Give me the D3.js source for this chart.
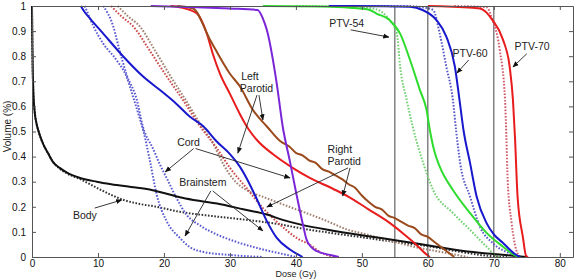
<!DOCTYPE html>
<html><head><meta charset="utf-8">
<script src="https://cdn.jsdelivr.net/npm/d3@7"></script>
<style>
html,body{margin:0;padding:0;background:#fff;}
svg{display:block;font-family:"Liberation Sans",Arial,sans-serif;}
</style></head><body>
<svg id="chart" width="576" height="279"></svg>
<script>
// ---------- DATA (dose in Gy, volume fraction) ----------
const xTicks = [0,10,20,30,40,50,60,70,80];
const yTicks = [0,0.1,0.2,0.3,0.4,0.5,0.6,0.7,0.8,0.9,1];
const refDoses = [55,60,70];

const bodyA = [[0,1],[0.05,0.86],[0.1,0.76],[0.2,0.66],[0.4,0.58],[0.7,0.53],[1,0.5],[1.7,0.45],[2.5,0.41],[3.2,0.378],[4.2,0.355],[5.3,0.336],[7.3,0.315],[9.8,0.3],[12,0.29],[15,0.279],[18,0.268],[20,0.255],[22.4,0.238],[25,0.225],[29,0.208],[32,0.19],[35.6,0.169],[38,0.148],[40.6,0.13],[45.6,0.105],[50.7,0.084],[55.8,0.064],[61.3,0.041],[66.4,0.021],[70,0.012],[73.4,0.004],[75,0]];
const bodyB = [[0,1],[0.05,0.86],[0.1,0.76],[0.2,0.66],[0.4,0.58],[0.7,0.53],[1,0.5],[1.7,0.45],[2.5,0.41],[3.2,0.378],[4.2,0.352],[5.3,0.333],[7.3,0.31],[9.8,0.276],[11.8,0.25],[13.8,0.228],[16,0.213],[18.9,0.2],[22.4,0.18],[27.4,0.163],[32.5,0.148],[37.6,0.13],[40.6,0.115],[45,0.097],[50.7,0.076],[55,0.06],[59.8,0.044],[65,0.02],[69,0.005],[72,0]];
const cordA = [[7.4,1],[8,0.975],[8.8,0.95],[10.8,0.89],[13.8,0.8],[16.8,0.72],[19.4,0.665],[21.9,0.61],[23.9,0.56],[26,0.52],[28,0.46],[30,0.41],[31.5,0.36],[32.8,0.3],[34,0.235],[35.6,0.143],[37.1,0.076],[39.1,0.03],[40.3,0.01],[41,0]];
const cordB = [[10.8,1],[12.3,0.92],[13.3,0.82],[14.3,0.73],[15.9,0.625],[16.8,0.52],[18.3,0.434],[19.4,0.368],[20.4,0.315],[21.9,0.235],[23.4,0.169],[25.5,0.125],[28,0.09],[31,0.06],[35,0.03],[38,0.012],[40,0]];
const brainstemB = [[8,1],[9.3,0.92],[10.8,0.85],[12.8,0.785],[14.3,0.72],[15.3,0.64],[16.4,0.546],[16.9,0.5],[17.9,0.38],[18.9,0.248],[20.4,0.143],[22.4,0.076],[23.9,0.04],[26,0.02],[30,0.008],[35,0]];
const rightParotidA = [[21,1],[22.4,0.995],[25,0.97],[26.5,0.89],[27.4,0.81],[28.5,0.73],[30,0.65],[31.5,0.57],[32.8,0.51],[34.3,0.46],[36.5,0.41],[39.5,0.355],[42.1,0.315],[45.6,0.272],[48,0.24],[51,0.19],[54,0.14],[56.2,0.095],[58,0.055],[59.8,0.01],[60.3,0]];
const rightParotidB = [[12,1],[13.5,0.96],[15.3,0.92],[17.9,0.82],[20.4,0.72],[22.9,0.625],[25.5,0.52],[28,0.434],[30,0.355],[32.5,0.275],[35,0.195],[37.6,0.129],[40.1,0.076],[42.1,0.049],[44,0.015],[46,0]];
const leftParotidA = [[22,1],[24.4,0.99],[27,0.865],[30,0.73],[31.5,0.68],[33.5,0.585],[35.6,0.52],[37.6,0.462],[39,0.44],[40,0.415],[41,0.405],[42,0.385],[43,0.375],[44,0.35],[45,0.34],[46,0.325],[47,0.31],[48,0.29],[49,0.275],[50,0.245],[51,0.22],[52,0.2],[53,0.19],[54,0.165],[55,0.155],[56,0.14],[57,0.125],[58,0.115],[59,0.09],[60,0.08],[61,0.06],[62,0.04],[63,0.02],[64,0]];
const leftParotidB = [[13,1],[14.5,0.96],[16.3,0.92],[18.7,0.82],[21,0.72],[23.3,0.625],[25.5,0.53],[27.5,0.45],[29,0.37],[30.5,0.31],[33,0.26],[35,0.24],[39,0.2],[42.6,0.165],[45,0.14],[47.7,0.11],[50.7,0.09],[52.7,0.075],[55,0.06],[58,0.04],[61,0.025],[64,0.01],[66,0]];
const violetA = [[18,1],[25,0.995],[30,0.99],[34.2,0.984],[35,0.95],[35.6,0.904],[37.1,0.69],[38,0.52],[39.1,0.38],[40.1,0.248],[41.1,0.125],[41.6,0.07],[42.3,0.04],[43.1,0.024],[45.2,0.008],[46.5,0]];
const ptv54A = [[35,1],[44.1,0.998],[48.2,0.993],[51.2,0.984],[52.2,0.97],[54.2,0.944],[55.8,0.89],[57.3,0.785],[58.8,0.665],[59.8,0.586],[60.3,0.506],[61,0.42],[61.8,0.36],[63.8,0.267],[66.4,0.175],[68.9,0.096],[71.4,0.041],[73.4,0.004],[74,0]];
const ptv54B = [[40,1],[48,0.998],[51.7,0.99],[54.2,0.944],[55.3,0.89],[55.8,0.758],[56.8,0.625],[57.7,0.52],[59.3,0.374],[60.8,0.267],[63.8,0.175],[66.4,0.108],[68.9,0.041],[70.4,0.004],[71,0]];
const ptv60A = [[45,1],[53,0.999],[57.3,0.997],[59.2,0.984],[61.3,0.944],[62.8,0.878],[64.1,0.758],[64.8,0.625],[65.4,0.506],[66.4,0.374],[67.4,0.24],[68.9,0.135],[70,0.09],[71.4,0.056],[73.4,0.008],[74,0]];
const ptv60B = [[48,1],[57,0.999],[59.2,0.995],[60.8,0.984],[61.8,0.89],[62.8,0.758],[63.8,0.625],[64.3,0.5],[64.9,0.374],[66.4,0.24],[67.9,0.12],[69.8,0.056],[72.9,0.008],[73.5,0]];
const ptv70A = [[60,1],[61.8,0.999],[67.9,0.99],[69.8,0.944],[71.4,0.865],[72.4,0.758],[72.9,0.625],[73.2,0.48],[73.6,0.24],[74.4,0.08],[74.9,0.004],[75.2,0]];
const ptv70B = [[64,1],[68.9,0.995],[69.8,0.944],[70.9,0.825],[71.7,0.625],[71.9,0.48],[72.1,0.307],[72.7,0.135],[73.4,0.028],[74,0]];

const labelTexts = ["PTV-54","PTV-60","PTV-70","Left","Parotid","Right","Parotid","Cord","Brainstem","Body"];

// ---------- STYLES / LAYOUT ----------
const series = [
  {d: bodyB, color:"#333", dash:"1.6,1.6"},
  {d: leftParotidB, color:"#a08070", dash:"1.6,1.6"},
  {d: rightParotidB, color:"#cc4a4a", dash:"1.6,1.6"},
  {d: brainstemB, color:"#5a5ad0", dash:"1.6,1.6"},
  {d: cordB, color:"#5a5ad0", dash:"1.6,1.6"},
  {d: ptv54B, color:"#70d070", dash:"1.6,1.6"},
  {d: ptv60B, color:"#5a5ac8", dash:"1.6,1.6"},
  {d: ptv70B, color:"#d05a6a", dash:"1.6,1.6"},
  {d: bodyA, color:"#111", dash:null},
  {d: cordA, color:"#1818cc", dash:null},
  {d: rightParotidA, color:"#e81c1c", dash:null},
  {d: leftParotidA, color:"#9a4a1c", dash:null},
  {d: violetA, color:"#7a26d8", dash:null},
  {d: ptv54A, color:"#2edc2e", dash:null},
  {d: ptv60A, color:"#1818cc", dash:null},
  {d: ptv70A, color:"#e81c1c", dash:null}
];

const x = d3.scaleLinear().domain([0,82]).range([32, 573]);
const y = d3.scaleLinear().domain([0,1]).range([257, 6]);
const svg = d3.select("#chart");

svg.append("defs").append("marker")
  .attr("id","arr").attr("viewBox","0 0 10 10").attr("refX",9).attr("refY",5)
  .attr("markerWidth",7).attr("markerHeight",7).attr("orient","auto")
  .append("path").attr("d","M0,1 L10,5 L0,9 z").attr("fill","#111");

// reference lines
svg.selectAll(".ref").data(refDoses).enter().append("line")
  .attr("x1",d=>x(d)).attr("x2",d=>x(d)).attr("y1",y(0)).attr("y2",y(1))
  .attr("stroke","#444").attr("stroke-width",1);

const line = d3.line().x(d=>x(d[0])).y(d=>y(d[1])).curve(d3.curveMonotoneX);
svg.selectAll(".s").data(series).enter().append("path")
  .attr("d",s=>line(s.d)).attr("fill","none")
  .attr("stroke",s=>s.color).attr("stroke-width",2)
  .attr("stroke-dasharray",s=>s.dash);

// axes box + ticks (inside)
const fs = 10.5, tfs = 10;
const axB = svg.append("g").attr("transform",`translate(0,${y(0)})`)
  .call(d3.axisBottom(x).tickValues(xTicks).tickSizeInner(-4).tickSizeOuter(0).tickPadding(8));
const axT = svg.append("g").attr("transform",`translate(0,${y(1)})`)
  .call(d3.axisTop(x).tickValues(xTicks).tickSizeInner(-4).tickSizeOuter(0).tickFormat(""));
const axL = svg.append("g").attr("transform",`translate(${x(0)},0)`)
  .call(d3.axisLeft(y).tickValues(yTicks).tickSizeInner(-4).tickSizeOuter(0).tickPadding(6).tickFormat(d=>d===0?"0":d===1?"1":d3.format(".1f")(d)));
const axR = svg.append("g").attr("transform",`translate(${x(82)},0)`)
  .call(d3.axisRight(y).tickValues(yTicks).tickSizeInner(-4).tickSizeOuter(0).tickFormat(""));
[axB,axT,axL,axR].forEach(g=>{
  g.select(".domain").attr("stroke","#555");
  g.selectAll(".tick line").attr("stroke","#555");
  g.selectAll("text").attr("font-size",tfs).attr("fill","#111").attr("font-family","Liberation Sans, Arial, sans-serif");
});
axB.selectAll("text").attr("dy","0.35em").attr("y",6);

// axis titles
svg.append("text").attr("x",x(40)).attr("y",277.2).attr("text-anchor","middle")
  .attr("font-size",9).attr("fill","#222").text("Dose (Gy)");
svg.append("text").attr("transform",`translate(11,${y(0.52)}) rotate(-90)`).attr("text-anchor","middle")
  .attr("font-size",tfs).attr("fill","#222").text("Volume (%)");

// annotations: text positions and arrows in data coords
const texts = [
  {t:labelTexts[0], p:[47.7,0.916], a:"middle"},
  {t:labelTexts[1], p:[66.4,0.797], a:"middle"},
  {t:labelTexts[2], p:[75.8,0.825], a:"middle"},
  {t:labelTexts[3], p:[31.7,0.705], a:"start"},
  {t:labelTexts[4], p:[31.5,0.657], a:"start"},
  {t:labelTexts[5], p:[44.8,0.414], a:"start"},
  {t:labelTexts[6], p:[44.8,0.367], a:"start"},
  {t:labelTexts[7], p:[22.0,0.442], a:"start"},
  {t:labelTexts[8], p:[22.3,0.283], a:"start"},
  {t:labelTexts[9], p:[6.2,0.151], a:"start"}
];
const arrows = [
  [[48.3,0.905],[54.1,0.876]],
  [[66.2,0.785],[64.4,0.733]],
  [[75.0,0.810],[72.9,0.757]],
  [[34.4,0.645],[35.0,0.546]],
  [[34.1,0.645],[31.2,0.414]],
  [[48.2,0.355],[47.1,0.243]],
  [[47.9,0.355],[35.6,0.199]],
  [[24.5,0.432],[20.2,0.339]],
  [[24.8,0.432],[39.1,0.315]],
  [[27.1,0.263],[23.2,0.084]],
  [[27.4,0.263],[35.0,0.104]],
  [[9.5,0.195],[13.6,0.227]]
];
svg.selectAll(".arr").data(arrows).enter().append("line")
  .attr("x1",d=>x(d[0][0])).attr("y1",d=>y(d[0][1]))
  .attr("x2",d=>x(d[1][0])).attr("y2",d=>y(d[1][1]))
  .attr("stroke","#222").attr("stroke-width",0.9).attr("marker-end","url(#arr)");
svg.selectAll(".lbl").data(texts).enter().append("text")
  .attr("x",d=>x(d.p[0])).attr("y",d=>y(d.p[1])).attr("text-anchor",d=>d.a)
  .attr("font-size",fs).attr("fill","#222").text(d=>d.t);
</script>
</body></html>
